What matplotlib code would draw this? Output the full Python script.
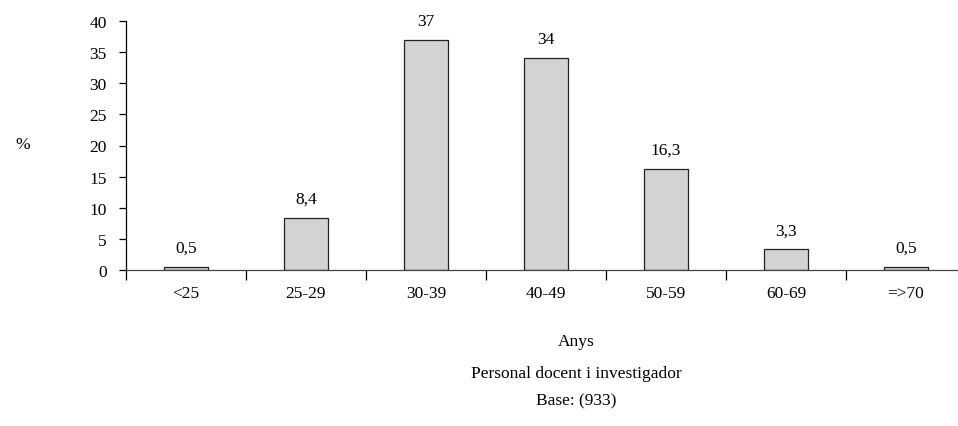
import matplotlib.pyplot as plt
import numpy as np

plt.rcParams['font.family'] = ['Liberation Serif', 'DejaVu Serif']

categories = ['<25', '25-29', '30-39', '40-49', '50-59', '60-69', '=>70']
values = [0.5, 8.4, 37, 34, 16.3, 3.3, 0.5]
value_labels = ['0,5', '8,4', '37', '34', '16,3', '3,3', '0,5']

fig = plt.figure(figsize=(9.58, 4.27), dpi=100)
# axes runs past the right edge of the figure, like the original crop
ax = fig.add_axes([126 / 958, 1 - 271 / 427, 840 / 958, 249 / 427])

x = np.arange(len(categories))
ax.bar(x, values, width=0.37, color='#d3d3d3', edgecolor='#222222', linewidth=0.9)

for xi, v, lab in zip(x, values, value_labels):
    ax.annotate(lab, (xi, v), xytext=(0, 8), textcoords='offset points',
                ha='center', va='bottom', fontsize=12.5)

ax.set_xlim(-0.5, len(categories) - 0.5)
ax.set_ylim(0, 40)
ax.set_yticks(range(0, 45, 5))
ax.set_xticks(np.arange(-0.5, len(categories), 1.0))
ax.set_xticklabels([])
ax.set_xticks(x, minor=True)
ax.set_xticklabels(categories, minor=True)
ax.tick_params(axis='x', which='major', length=7, direction='out', width=0.9)
ax.tick_params(axis='x', which='minor', length=0, pad=11, labelsize=12.5)
ax.tick_params(axis='y', length=5, width=0.9, pad=9, labelsize=12.5)

for s in ['top', 'right']:
    ax.spines[s].set_visible(False)
ax.spines['left'].set_linewidth(0.9)
ax.spines['bottom'].set_linewidth(0.9)
ax.spines['bottom'].set_color('#444444')

fig.text(23 / 958, 1 - 145 / 427, '%', ha='center', va='center', fontsize=12.5)
fig.text(576 / 958, 1 - 342 / 427, 'Anys', ha='center', va='center', fontsize=12.5)
fig.text(576 / 958, 1 - 374 / 427, 'Personal docent i investigador', ha='center', va='center', fontsize=12.5)
fig.text(576 / 958, 1 - 401 / 427, 'Base: (933)', ha='center', va='center', fontsize=12.5)

fig.savefig('out.png', dpi=100)
